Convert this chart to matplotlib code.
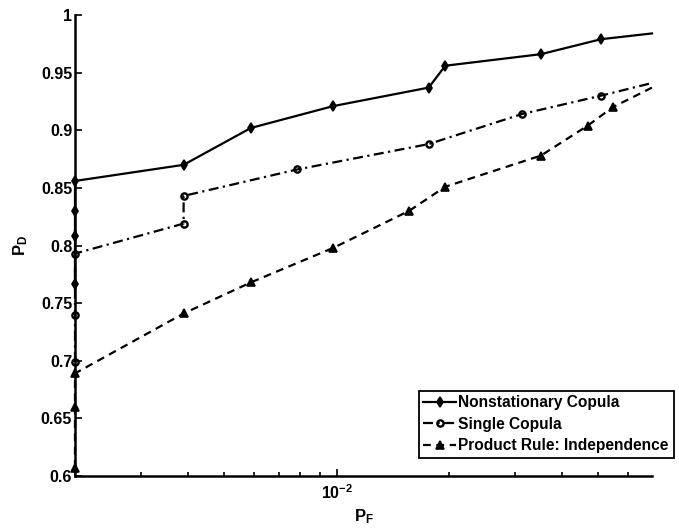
import matplotlib
matplotlib.use("Agg")
import matplotlib.pyplot as plt
from matplotlib.ticker import FormatStrFormatter, LogLocator, NullFormatter

plt.rcParams['font.family'] = ['Liberation Sans', 'DejaVu Sans']
plt.rcParams['font.weight'] = 'bold'
plt.rcParams['mathtext.fontset'] = 'custom'
plt.rcParams['mathtext.rm'] = 'Liberation Sans:bold'
plt.rcParams['mathtext.bf'] = 'Liberation Sans:bold'
plt.rcParams['mathtext.it'] = 'Liberation Sans:bold'

# ---- data ----
pf_nonstat = [0.002, 0.002, 0.002, 0.002, 0.0039, 0.0059, 0.0098, 0.0176, 0.0195, 0.0351, 0.0508, 0.0695]
pd_nonstat = [0.767, 0.808, 0.830, 0.856, 0.870, 0.902, 0.921, 0.937, 0.956, 0.966, 0.979, 0.984]

pf_single = [0.002, 0.002, 0.002, 0.0039, 0.0039, 0.00785, 0.0176, 0.0312, 0.0508, 0.0695]
pd_single = [0.699, 0.740, 0.793, 0.819, 0.843, 0.866, 0.888, 0.914, 0.930, 0.941]

pf_prod = [0.002, 0.002, 0.002, 0.0039, 0.0059, 0.0098, 0.0156, 0.0195, 0.0351, 0.0468, 0.0546, 0.0695]
pd_prod = [0.607, 0.660, 0.689, 0.741, 0.768, 0.798, 0.830, 0.851, 0.878, 0.904, 0.920, 0.937]

labels = ['Nonstationary Copula', 'Single Copula', 'Product Rule: Independence']

# ---- figure ----
fig = plt.figure(figsize=(6.79, 5.29), dpi=100)
ax = fig.add_axes([75 / 679, 1 - 476 / 529, (652 - 75) / 679, (476 - 15) / 529])

# last point of each curve is where the line leaves the axes -> no marker there
l1, = ax.plot(pf_nonstat, pd_nonstat, '-', color='k', lw=1.6, marker='d', ms=5.5,
              mfc='k', mec='k', mew=1.2, clip_on=False,
              markevery=list(range(len(pf_nonstat) - 1)))
l2, = ax.plot(pf_single, pd_single, '-.', color='k', lw=1.6, marker='o', ms=4.5,
              mfc='none', mec='k', mew=1.7, clip_on=False, dashes=(4.5, 2, 1, 2),
              markevery=list(range(len(pf_single) - 1)))
l3, = ax.plot(pf_prod, pd_prod, '--', color='k', lw=1.6, marker='^', ms=5.5,
              mfc='k', mec='k', mew=1.2, clip_on=False, dashes=(3.5, 2.5),
              markevery=list(range(len(pf_prod) - 1)))

ax.set_xscale('log')
ax.set_xlim(0.002, 0.0695)
ax.set_ylim(0.6, 1.0)

ax.set_yticks([0.6, 0.65, 0.7, 0.75, 0.8, 0.85, 0.9, 0.95, 1.0])
ax.yaxis.set_major_formatter(FormatStrFormatter('%g'))
ax.set_xticks([0.01])
ax.set_xticklabels([r'$10^{-2}$'])
ax.xaxis.set_minor_locator(LogLocator(base=10, subs=range(2, 10)))
ax.xaxis.set_minor_formatter(NullFormatter())

ax.spines['top'].set_visible(False)
ax.spines['right'].set_visible(False)
ax.spines['left'].set_linewidth(1.8)
ax.spines['bottom'].set_linewidth(1.8)
ax.tick_params(axis='both', which='major', direction='in', length=5, width=1.2,
               labelsize=11.5, pad=2)
ax.tick_params(axis='x', which='minor', direction='in', length=3, width=1.2)
ax.tick_params(axis='x', which='major', pad=5)

ax.set_xlabel(r'P$_\mathrm{F}$', fontsize=12, fontweight='bold', labelpad=4)
ax.set_ylabel(r'P$_\mathrm{D}$', fontsize=12, fontweight='bold', labelpad=8)

leg = fig.legend([l1, l2, l3], labels, loc='upper right',
                 bbox_to_anchor=(673.5 / 679, 1 - 390.5 / 529),
                 fontsize=11.2, handlelength=2.1, handletextpad=0.15,
                 borderpad=0.3, labelspacing=0.42, borderaxespad=0,
                 fancybox=False, framealpha=1, edgecolor='k')
leg.get_frame().set_linewidth(1.3)

fig.savefig('out.png', dpi=100)
